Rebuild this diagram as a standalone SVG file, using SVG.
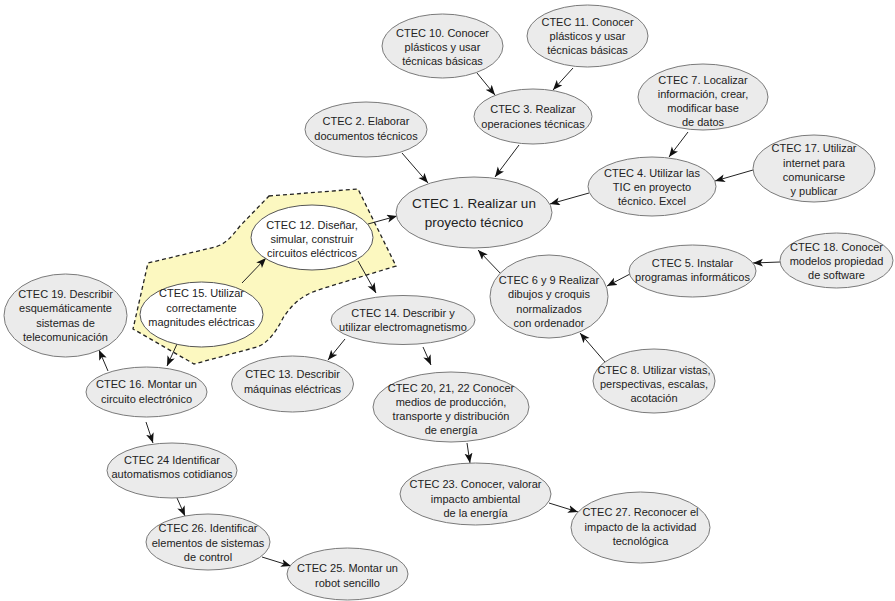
<svg xmlns="http://www.w3.org/2000/svg" width="895" height="601" viewBox="0 0 895 601">
<defs>
<marker id="arr" markerUnits="userSpaceOnUse" markerWidth="11" markerHeight="9" refX="10" refY="4" orient="auto">
<path d="M0,0 L10,4 L0,8 L2.5,4 Z" fill="#111"/>
</marker>
</defs>
<style>
.n{fill:#ebebeb;stroke:#7a7a7a;stroke-width:1}
.w{fill:#ffffff;stroke:#555;stroke-width:1}
text{font-family:"Liberation Sans",Arial,sans-serif;font-size:11px;fill:#222;text-anchor:middle}
.big{font-size:13.5px}
.e{stroke:#222;stroke-width:1;fill:none;marker-end:url(#arr)}
.grp{fill:#fcf8c0;stroke:#222;stroke-width:1.3;stroke-dasharray:4,3}
</style>
<rect width="895" height="601" fill="#fff"/>
<g id="group-area">
<path class="grp" d="M269,196 L358,189 L396,266 L318,290 C300,296 291,306 283,318 C276,332 268,343 257,347 L194,364 L133,329 L148,263 L215,247 C226,244 232,236 240,226 Z"/>
</g>
<g id="connectors">
<line class="e" x1="477" y1="73" x2="495" y2="95"/>
<line class="e" x1="573" y1="68" x2="553" y2="90"/>
<line class="e" x1="519" y1="145" x2="495" y2="177"/>
<line class="e" x1="402" y1="153" x2="428" y2="183"/>
<line class="e" x1="688" y1="132" x2="669" y2="157"/>
<line class="e" x1="753" y1="170" x2="715" y2="181"/>
<line class="e" x1="589" y1="193" x2="550" y2="204"/>
<line class="e" x1="780" y1="262" x2="753" y2="263"/>
<line class="e" x1="630" y1="274" x2="607" y2="286"/>
<line class="e" x1="502" y1="275" x2="478" y2="250"/>
<line class="e" x1="605" y1="362" x2="580" y2="333"/>
<line class="e" x1="368" y1="224" x2="397" y2="216"/>
<line class="e" x1="358" y1="261" x2="376" y2="293"/>
<line class="e" x1="242" y1="283" x2="266" y2="258"/>
<line class="e" x1="177" y1="344" x2="167" y2="366"/>
<line class="e" x1="108" y1="371" x2="99" y2="350"/>
<line class="e" x1="146" y1="422" x2="153" y2="443"/>
<line class="e" x1="177" y1="498" x2="185" y2="516"/>
<line class="e" x1="262" y1="557" x2="291" y2="566"/>
<line class="e" x1="345" y1="339" x2="328" y2="360"/>
<line class="e" x1="423" y1="347" x2="431" y2="365"/>
<line class="e" x1="467" y1="443" x2="470" y2="463"/>
<line class="e" x1="549" y1="503" x2="578" y2="512"/>
</g>
<g id="n10"><ellipse class="n" cx="442.5" cy="46" rx="60.5" ry="32"/><text x="442.5" y="37">CTEC 10. Conocer</text><text x="442.5" y="51">plásticos y usar</text><text x="442.5" y="65">técnicas básicas</text></g>
<g id="n11"><ellipse class="n" cx="587.5" cy="36" rx="60.5" ry="31"/><text x="587.5" y="26">CTEC 11. Conocer</text><text x="587.5" y="40">plásticos y usar</text><text x="587.5" y="54">técnicas básicas</text></g>
<g id="n2"><ellipse class="n" cx="366" cy="129.5" rx="61" ry="27.5"/><text x="366" y="125">CTEC 2. Elaborar</text><text x="366" y="140">documentos técnicos</text></g>
<g id="n3"><ellipse class="n" cx="533" cy="116.5" rx="59" ry="27.5"/><text x="533" y="113">CTEC 3. Realizar</text><text x="533" y="128">operaciones técnicas</text></g>
<g id="n7"><ellipse class="n" cx="703" cy="97" rx="65" ry="33"/><text x="703" y="84">CTEC 7. Localizar</text><text x="703" y="98">información, crear,</text><text x="703" y="112">modificar base</text><text x="703" y="126">de datos</text></g>
<g id="n17"><ellipse class="n" cx="814" cy="168.5" rx="61" ry="33.5"/><text x="814" y="152">CTEC 17. Utilizar</text><text x="814" y="167">internet para</text><text x="814" y="181">comunicarse</text><text x="814" y="195">y publicar</text></g>
<g id="n4"><ellipse class="n" cx="652" cy="186.5" rx="64" ry="29.5"/><text x="652" y="177">CTEC 4. Utilizar las</text><text x="652" y="191">TIC en proyecto</text><text x="652" y="205">técnico. Excel</text></g>
<g id="n1"><ellipse class="n" cx="474" cy="212.5" rx="78" ry="35.5"/><text class="big" x="474" y="207.5">CTEC 1. Realizar un</text><text class="big" x="474" y="226.5">proyecto técnico</text></g>
<g id="n12"><ellipse class="w" cx="312" cy="237.5" rx="61" ry="32.5"/><text x="312" y="229">CTEC 12. Diseñar,</text><text x="312" y="243">simular, construir</text><text x="312" y="257">circuitos eléctricos</text></g>
<g id="n15"><ellipse class="w" cx="201.5" cy="314.5" rx="61.5" ry="32.5"/><text x="201.5" y="297">CTEC 15. Utilizar</text><text x="201.5" y="312">correctamente</text><text x="201.5" y="326">magnitudes eléctricas</text></g>
<g id="n18"><ellipse class="n" cx="836.5" cy="260.5" rx="56.5" ry="27.5"/><text x="836.5" y="251">CTEC 18. Conocer</text><text x="836.5" y="265">modelos propiedad</text><text x="836.5" y="279">de software</text></g>
<g id="n5"><ellipse class="n" cx="692.5" cy="271" rx="63.5" ry="26"/><text x="692.5" y="267">CTEC 5. Instalar</text><text x="692.5" y="281">programas informáticos</text></g>
<g id="n69"><ellipse class="n" cx="549" cy="296.5" rx="59" ry="41.5"/><text x="549" y="284">CTEC 6 y 9 Realizar</text><text x="549" y="298">dibujos y croquis</text><text x="549" y="313">normalizados</text><text x="549" y="327">con ordenador</text></g>
<g id="n8"><ellipse class="n" cx="654" cy="381" rx="61" ry="32"/><text x="654" y="374">CTEC 8. Utilizar vistas,</text><text x="654" y="388">perspectivas, escalas,</text><text x="654" y="402">acotación</text></g>
<g id="n14"><ellipse class="n" cx="403" cy="320" rx="72" ry="24.5"/><text x="403" y="317">CTEC 14. Describir y</text><text x="403" y="331">utilizar electromagnetismo</text></g>
<g id="n13"><ellipse class="n" cx="292.5" cy="384" rx="61" ry="28"/><text x="292.5" y="378">CTEC 13. Describir</text><text x="292.5" y="393">máquinas eléctricas</text></g>
<g id="n20"><ellipse class="n" cx="451" cy="407" rx="78" ry="35"/><text x="451" y="392">CTEC 20, 21, 22 Conocer</text><text x="451" y="406">medios de producción,</text><text x="451" y="420">transporte y distribución</text><text x="451" y="434">de energía</text></g>
<g id="n23"><ellipse class="n" cx="475.5" cy="494" rx="75.5" ry="31"/><text x="475.5" y="488">CTEC 23. Conocer, valorar</text><text x="475.5" y="503">impacto ambiental</text><text x="475.5" y="517">de la energía</text></g>
<g id="n27"><ellipse class="n" cx="640.5" cy="527.5" rx="69.5" ry="35.5"/><text x="640.5" y="516">CTEC 27. Reconocer el</text><text x="640.5" y="531">impacto de la actividad</text><text x="640.5" y="545">tecnológica</text></g>
<g id="n19"><ellipse class="n" cx="65.5" cy="315.5" rx="61.5" ry="41.5"/><text x="65.5" y="298">CTEC 19. Describir</text><text x="65.5" y="312">esquemáticamente</text><text x="65.5" y="327">sistemas de</text><text x="65.5" y="341">telecomunicación</text></g>
<g id="n16"><ellipse class="n" cx="146.5" cy="392" rx="60.5" ry="25"/><text x="146.5" y="388">CTEC 16. Montar un</text><text x="146.5" y="403">circuito electrónico</text></g>
<g id="n24"><ellipse class="n" cx="172" cy="470.5" rx="65" ry="27.5"/><text x="172" y="464">CTEC 24 Identificar</text><text x="172" y="478">automatismos cotidianos</text></g>
<g id="n26"><ellipse class="n" cx="208" cy="542" rx="62" ry="28"/><text x="208" y="532">CTEC 26. Identificar</text><text x="208" y="547">elementos de sistemas</text><text x="208" y="561">de control</text></g>
<g id="n25"><ellipse class="n" cx="347.5" cy="574" rx="60.5" ry="26"/><text x="347.5" y="572">CTEC 25. Montar un</text><text x="347.5" y="587">robot sencillo</text></g>
</svg>
